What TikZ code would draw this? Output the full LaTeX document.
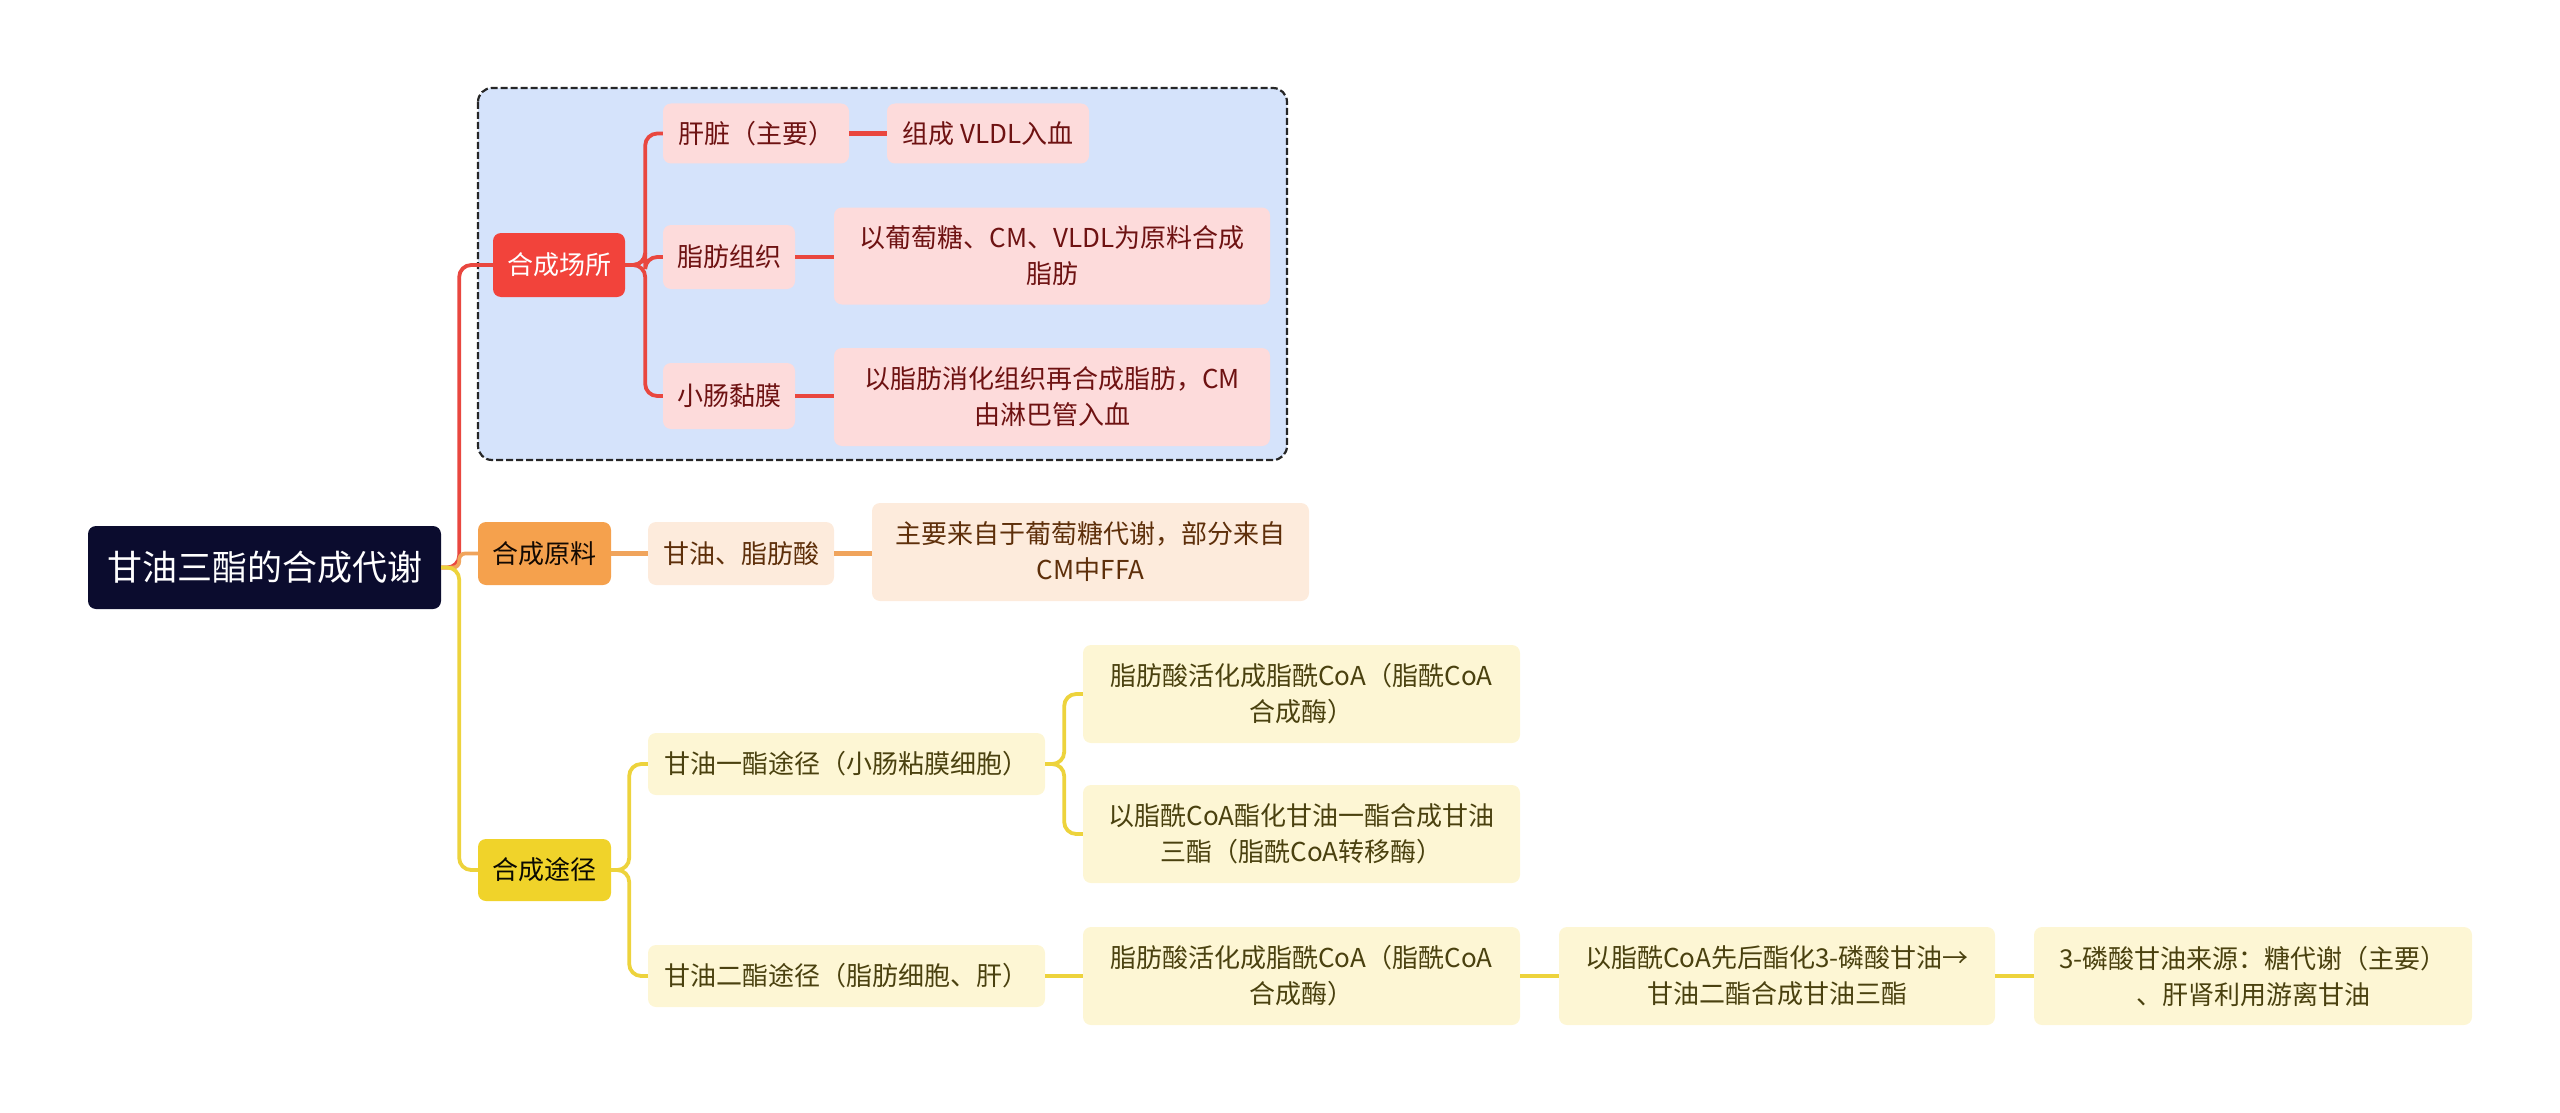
\documentclass[tikz,border=0pt]{standalone}
\usepackage{fontspec}
\setmainfont{Noto Sans CJK SC}
\usetikzlibrary{positioning}

\definecolor{rootbg}{HTML}{0B0C2E}
\definecolor{redmain}{HTML}{F2433B}
\definecolor{redlight}{HTML}{FDDBDB}
\definecolor{redtext}{HTML}{6E1212}
\definecolor{redcl}{HTML}{E9473F}
\definecolor{boxblue}{HTML}{D5E3FB}
\definecolor{orgmain}{HTML}{F5A14D}
\definecolor{orglight}{HTML}{FDEBDC}
\definecolor{orgtext}{HTML}{5E2F0A}
\definecolor{orgcl}{HTML}{F0A45C}
\definecolor{ylwmain}{HTML}{F0D32A}
\definecolor{ylwlight}{HTML}{FDF6D4}
\definecolor{ylwtext}{HTML}{4A410F}
\definecolor{ylwcl}{HTML}{EDD33C}

\begin{document}
\begin{tikzpicture}[
    x=1pt, y=-1pt,
    box/.style={rounded corners=8pt, inner sep=0pt, align=center,
        font=\fontsize{26}{36}\selectfont},
    rootbox/.style={box, fill=rootbg, text=white, minimum width=353pt,
        minimum height=83pt, font=\fontsize{35}{40}\selectfont},
    redtop/.style={box, fill=redmain, text=white, minimum width=132pt, minimum height=64pt},
    redsub/.style={box, fill=redlight, text=redtext},
    orgtop/.style={box, fill=orgmain, text=black!80!orgtext, minimum width=133pt, minimum height=63pt},
    orgsub/.style={box, fill=orglight, text=orgtext},
    ylwtop/.style={box, fill=ylwmain, text=black!85!ylwtext, minimum width=133pt, minimum height=62pt},
    ylwsub/.style={box, fill=ylwlight, text=ylwtext},
    dashbox/.style={draw=black!85, fill=boxblue, line width=2.2pt,
        dash pattern=on 7pt off 3pt, rounded corners=14pt},
    redln/.style={draw=redcl, line width=3.8pt, rounded corners=12pt},
    orgln/.style={draw=orgcl, line width=3.8pt, rounded corners=6pt},
    ylwln/.style={draw=ylwcl, line width=3.8pt, rounded corners=12pt},
    redthick/.style={draw=redcl, line width=4.5pt},
    orgthick/.style={draw=orgcl, line width=4.5pt},
    ylwthick/.style={draw=ylwcl, line width=4.5pt}
]
\useasboundingbox (0,0) rectangle (2560,1113);

% 虚线框
\draw[dashbox] (478,88) rectangle (1287,460);

% 根节点
\node[rootbox] (root) at (264.5,567.5) {甘油三酯的合成代谢};

% 合成场所
\node[redtop] (site) at (559,265) {合成场所};
\node[redsub, minimum width=186pt, minimum height=60pt] (liver) at (756,133.5) {肝脏（主要）};
\node[redsub, minimum width=202pt, minimum height=60pt] (vldl) at (988,133.5) {组成 VLDL入血};
\node[redsub, minimum width=132pt, minimum height=64pt] (fat) at (729,257) {脂肪组织};
\node[redsub, minimum width=436pt, minimum height=97pt] (glu) at (1052,256) {以葡萄糖、CM、VLDL为原料合成\\脂肪};
\node[redsub, minimum width=132pt, minimum height=66pt] (gut) at (729,396) {小肠黏膜};
\node[redsub, minimum width=436pt, minimum height=98pt] (lymph) at (1052,397) {以脂肪消化组织再合成脂肪，CM\\由淋巴管入血};

% 合成原料
\node[orgtop] (raw) at (544.5,553.5) {合成原料};
\node[orgsub, minimum width=186pt, minimum height=63pt] (glyc) at (741,553.5) {甘油、脂肪酸};
\node[orgsub, minimum width=437pt, minimum height=98pt] (src) at (1090.5,552) {主要来自于葡萄糖代谢，部分来自\\CM中FFA};

% 合成途径
\node[ylwtop] (way) at (544.5,870) {合成途径};
\node[ylwsub, minimum width=397pt, minimum height=62pt] (mono) at (846.5,764) {甘油一酯途径（小肠粘膜细胞）};
\node[ylwsub, minimum width=437pt, minimum height=98pt] (mono1) at (1301.5,694) {脂肪酸活化成脂酰CoA（脂酰CoA\\合成酶）};
\node[ylwsub, minimum width=437pt, minimum height=98pt] (mono2) at (1301.5,834) {以脂酰CoA酯化甘油一酯合成甘油\\三酯（脂酰CoA转移酶）};
\node[ylwsub, minimum width=397pt, minimum height=62pt] (di) at (846.5,976) {甘油二酯途径（脂肪细胞、肝）};
\node[ylwsub, minimum width=437pt, minimum height=98pt] (di1) at (1301.5,976) {脂肪酸活化成脂酰CoA（脂酰CoA\\合成酶）};
\node[ylwsub, minimum width=436pt, minimum height=98pt] (di2) at (1777,976) {以脂酰CoA先后酯化3-磷酸甘油→\\甘油二酯合成甘油三酯};
\node[ylwsub, minimum width=438pt, minimum height=98pt] (di3) at (2253,976) {3-磷酸甘油来源：糖代谢（主要）\\、肝肾利用游离甘油};

% 连线
\draw[redln] (root.east) -- ++(18,0) |- (site.west);
\draw[orgln] (root.east) -- ++(18,0) |- (raw.west);
\draw[ylwln] (root.east) -- ++(18,0) |- (way.west);

\draw[redln] (site.east) -- ++(20,0) |- (liver.west);
\draw[redln] (site.east) -- ++(20,0) |- (fat.west);
\draw[redln] (site.east) -- ++(20,0) |- (gut.west);
\draw[redthick] (liver.east) -- (liver.east -| vldl.west);
\draw[redthick] (fat.east) -- (fat.east -| glu.west);
\draw[redthick] (gut.east) -- (gut.east -| lymph.west);

\draw[orgthick] (raw.east) -- (glyc.west);
\draw[orgthick] (glyc.east) -- (glyc.east -| src.west);

\draw[ylwln] (way.east) -- ++(18,0) |- (mono.west);
\draw[ylwln] (way.east) -- ++(18,0) |- (di.west);
\draw[ylwln] (mono.east) -- ++(19,0) |- (mono1.west);
\draw[ylwln] (mono.east) -- ++(19,0) |- (mono2.west);
\draw[ylwthick] (di.east) -- (di1.west);
\draw[ylwthick] (di1.east) -- (di2.west);
\draw[ylwthick] (di2.east) -- (di3.west);

\end{tikzpicture}
\end{document}
